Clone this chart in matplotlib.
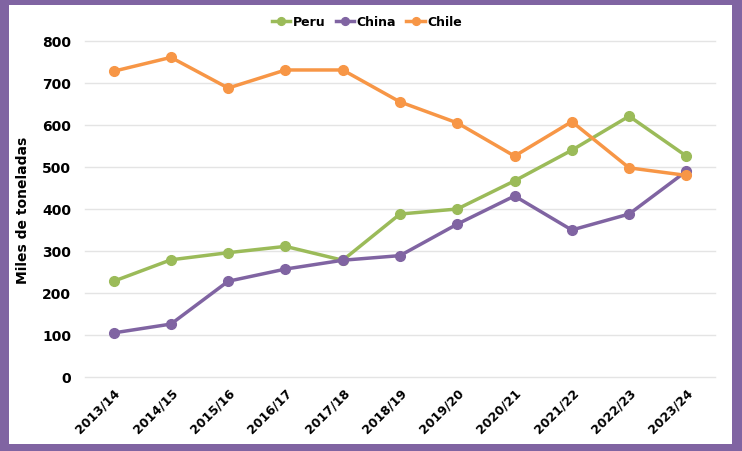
import matplotlib.pyplot as plt
import matplotlib.patches as mpatches
import numpy as np

seasons = ["2013/14", "2014/15", "2015/16", "2016/17", "2017/18", "2018/19",
           "2019/20", "2020/21", "2021/22", "2022/23", "2023/24"]
peru = [228, 279, 296, 311, 278, 388, 400, 467, 540, 621, 526]
china = [105, 126, 228, 257, 278, 289, 364, 431, 350, 388, 490]
chile = [728, 761, 688, 731, 731, 655, 605, 526, 608, 498, 480]

W, H = 742, 452
fig = plt.figure(figsize=(W / 100, H / 100), dpi=100)
fig.patch.set_facecolor("#8064A2")
# white inner panel, purple frame around it
fig.add_artist(mpatches.Rectangle((9 / W, 1 - 445 / H), 723 / W, 439 / H,
                                  transform=fig.transFigure,
                                  facecolor="white", edgecolor="none",
                                  zorder=-10))

ax = fig.add_axes([85 / W, 74 / H, 630 / W, 336 / H])
ax.set_zorder(5)
ax.set_facecolor("none")

x = np.arange(len(seasons))
ax.plot(x, peru, color="#9BBB59", lw=2.5, marker="o", ms=7, label="Peru")
ax.plot(x, china, color="#8064A2", lw=2.5, marker="o", ms=7, label="China")
ax.plot(x, chile, color="#F79646", lw=2.5, marker="o", ms=7, label="Chile")

ax.set_xlim(-0.5, len(seasons) - 0.5)
ax.set_ylim(0, 800)
ax.set_yticks(range(0, 801, 100))
ax.set_xticks(x)
ax.set_xticklabels(seasons, rotation=45, ha="right", rotation_mode="anchor",
                   fontsize=9, fontweight="bold")
for lab in ax.get_yticklabels():
    lab.set_fontsize(10)
    lab.set_fontweight("bold")
ax.tick_params(axis="both", length=0, pad=10)
ax.tick_params(axis="x", pad=6)
ax.grid(axis="y", color="#E4E4E4", lw=1, clip_on=False)
ax.set_axisbelow(True)
for s in ax.spines.values():
    s.set_visible(False)

ax.set_ylabel("Miles de toneladas", fontsize=10, fontweight="bold", labelpad=9)

leg = fig.legend(loc="center", bbox_to_anchor=(367 / W, 1 - 23 / H), ncol=3,
                 frameon=False, handlelength=1.5, columnspacing=0.8,
                 handletextpad=0.2, markerscale=0.8,
                 prop={"weight": "bold", "size": 9})
leg.set_zorder(6)

fig.savefig("out.png", dpi=100, facecolor=fig.get_facecolor())
